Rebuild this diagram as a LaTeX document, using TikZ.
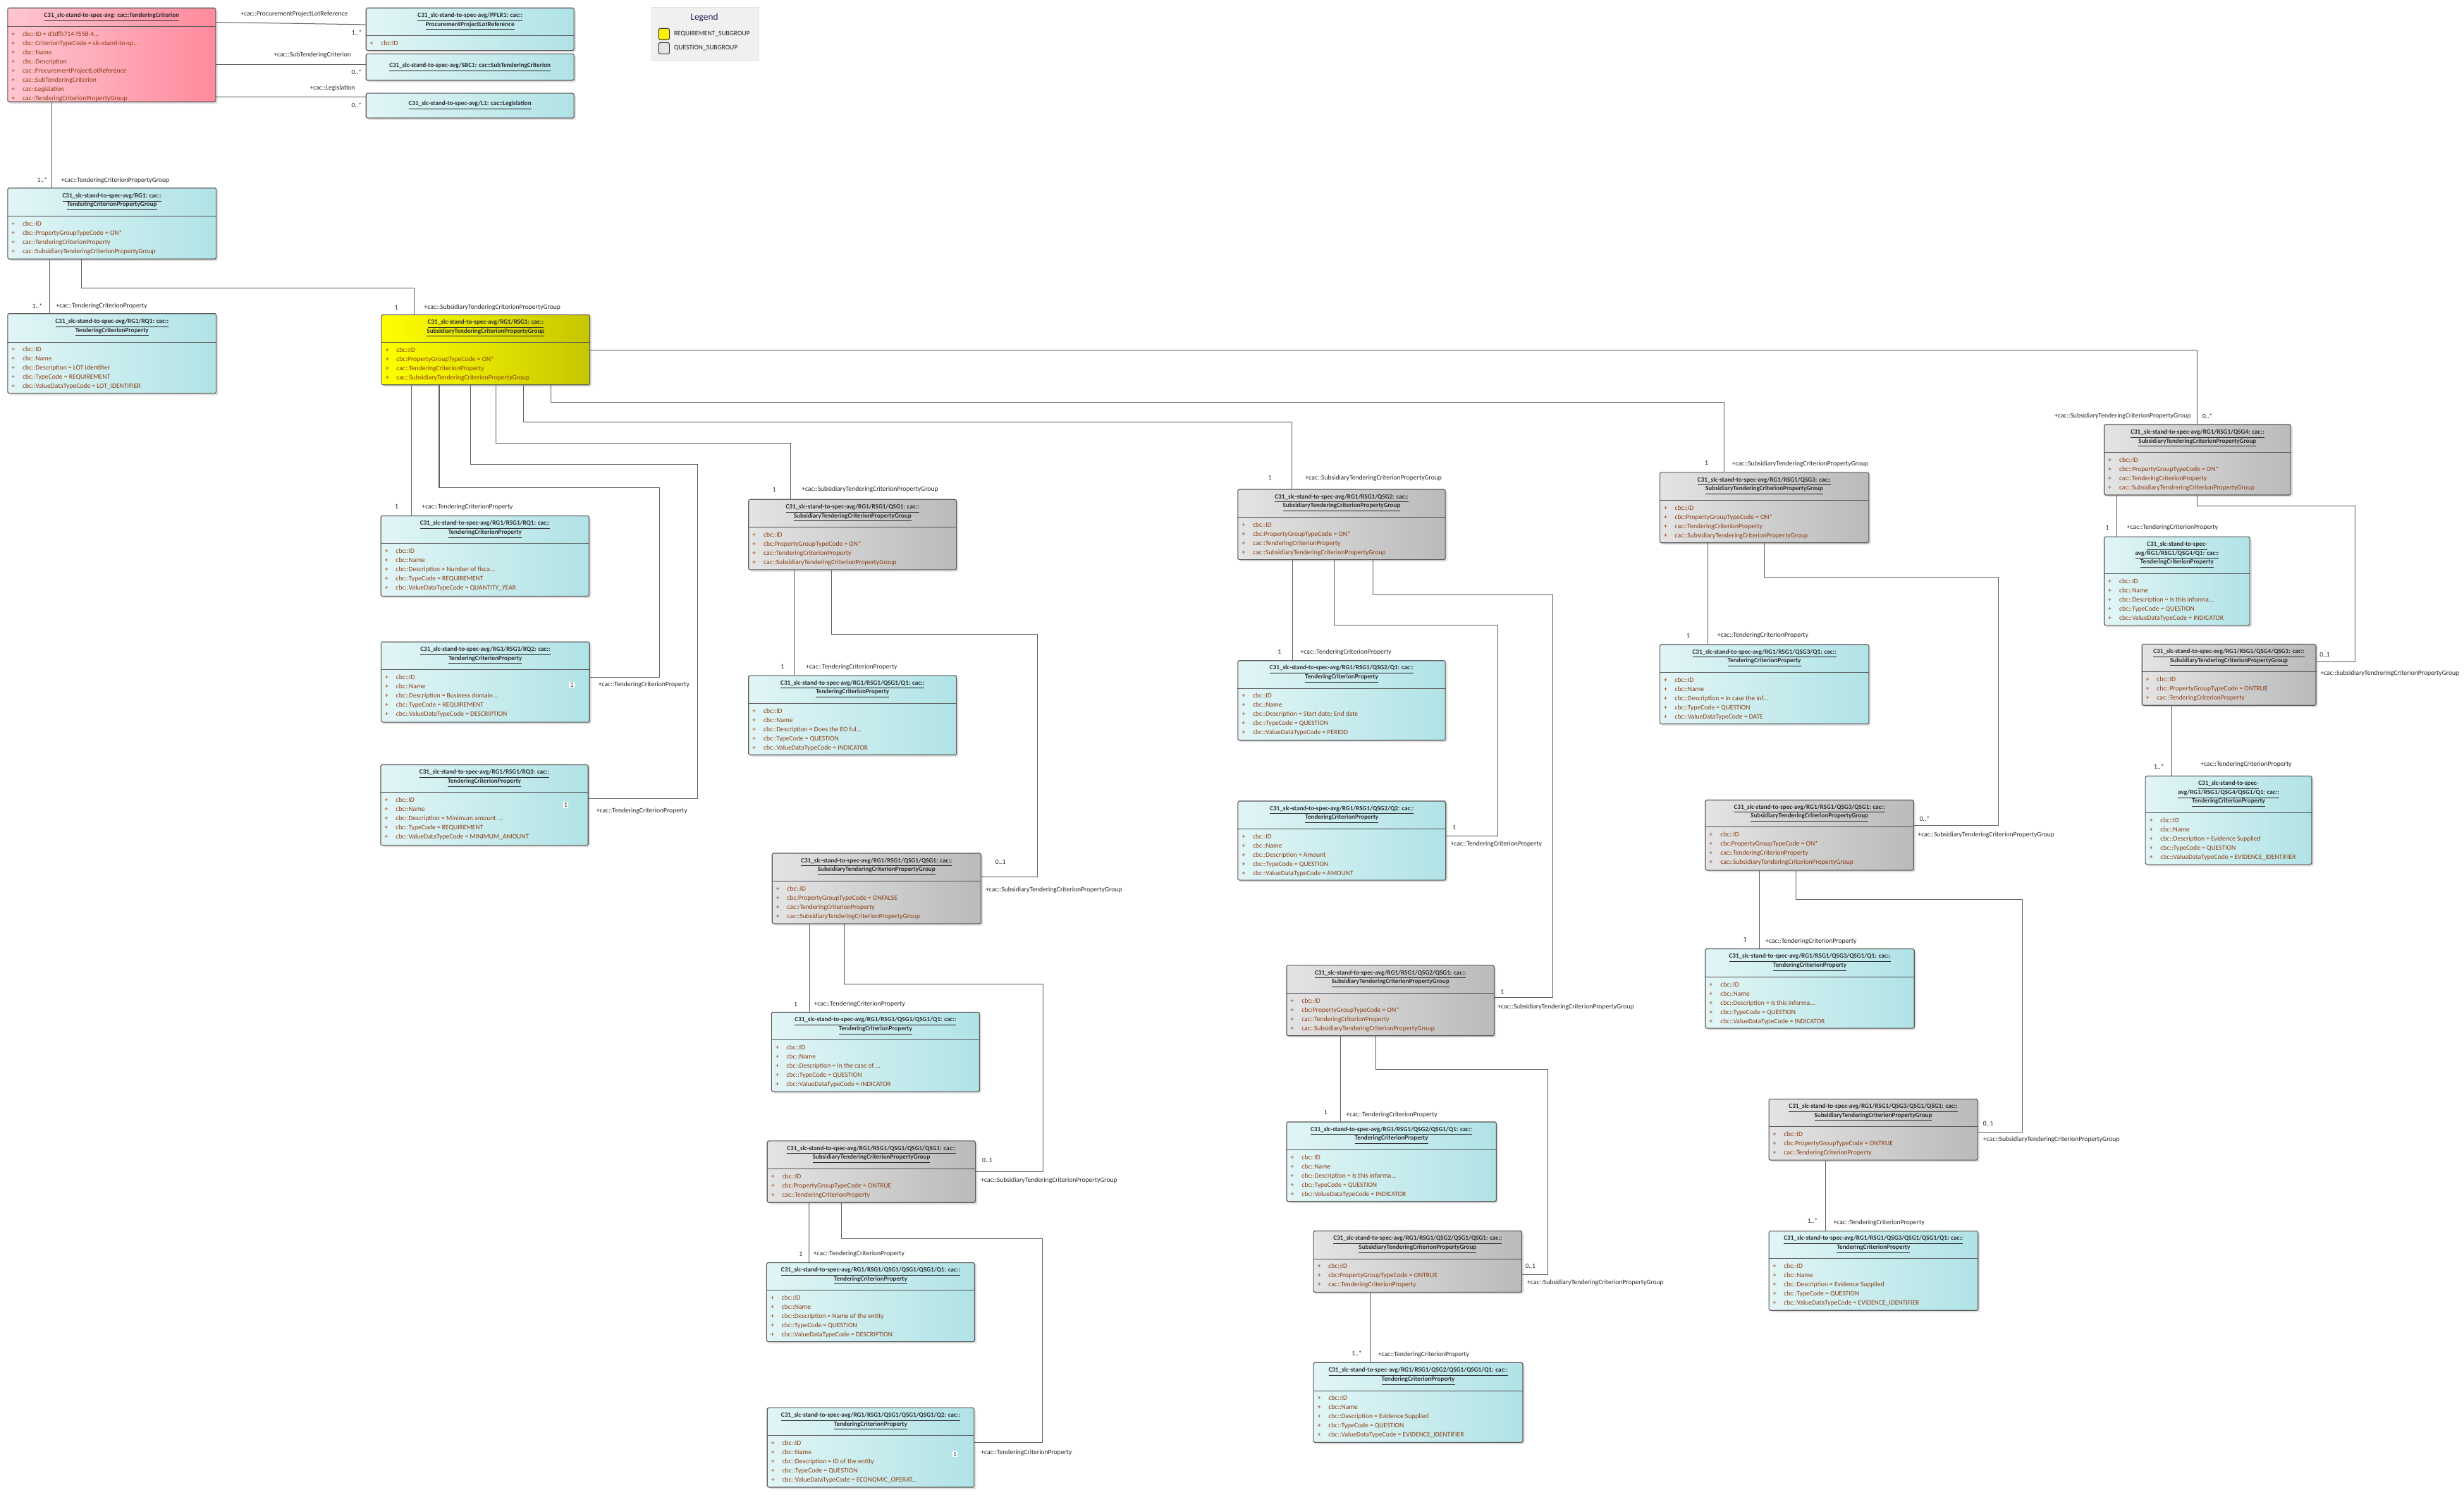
\documentclass[tikz,border=0pt]{standalone}
\usepackage{fontspec}
\setmainfont{Carlito}
\usetikzlibrary{shadows}

\definecolor{cyanL}{RGB}{226,245,246}
\definecolor{cyanR}{RGB}{176,227,230}
\definecolor{greyL}{RGB}{228,228,228}
\definecolor{greyR}{RGB}{186,186,186}
\definecolor{yelL}{RGB}{255,255,0}
\definecolor{yelR}{RGB}{198,198,0}
\definecolor{pinkL}{RGB}{255,198,208}
\definecolor{pinkR}{RGB}{255,138,156}
\definecolor{boxdraw}{RGB}{88,88,88}
\definecolor{linkgray}{RGB}{96,96,96}
\definecolor{attrcol}{RGB}{140,62,20}
\definecolor{titlecol}{RGB}{45,45,50}
\definecolor{legfill}{RGB}{240,240,240}

\newcommand{\cprefix}{C31\_slc-stand-to-spec-avg}
\newcommand{\battr}[1]{\makebox[7pt][l]{+}#1}
\newcommand{\tline}[2]{\underline{#1}\\\underline{#2}}
\newcommand{\propattrs}[3]{\battr{cbc::ID}\\\battr{cbc::Name}\\\battr{cbc::Description = #1}\\\battr{cbc::TypeCode = #2}\\\battr{cbc::ValueDataTypeCode = #3}}
\newcommand{\grpattrs}[1]{\battr{cbc::ID}\\\battr{cbc:PropertyGroupTypeCode = #1}\\\battr{cac::TenderingCriterionProperty}\\\battr{cac::SubsidiaryTenderingCriterionPropertyGroup}}
\newcommand{\leafattrs}[1]{\battr{cbc::ID}\\\battr{cbc:PropertyGroupTypeCode = #1}\\\battr{cac::TenderingCriterionProperty}}
% name, colour style, x, y, width, height, header height, title, attributes
\newcommand{\umlbox}[9]{%
  \node[#2, minimum width=#5pt, minimum height=#6pt] (#1) at (#3,#4) {};
  \draw[divline] ([yshift=-#7pt]#1.north west) -- ([yshift=-#7pt]#1.north east);
  \node[boxtitle] (#1-t) at ([yshift=-#7pt/2]#1.north) {#8};
  \node[boxattr] (#1-a) at ([yshift=-#7pt]#1.north west) {#9};
}

\tikzset{
  umlbase/.style={anchor=north west, draw=boxdraw, line width=0.5pt, rounded corners=0.8pt, inner sep=0pt,
    drop shadow={shadow xshift=1.2pt, shadow yshift=-1.2pt, opacity=0.25}},
  cyanbox/.style={umlbase, left color=cyanL, right color=cyanR},
  greybox/.style={umlbase, left color=greyL, right color=greyR},
  yellowbox/.style={umlbase, left color=yelL, right color=yelR},
  pinkbox/.style={umlbase, left color=pinkL, right color=pinkR},
  divline/.style={draw=boxdraw, line width=0.4pt},
  boxtitle/.style={align=center, inner sep=0pt, text=titlecol, font=\bfseries\fontsize{4.1}{5.7}\selectfont},
  boxattr/.style={anchor=north west, align=left, inner xsep=2.6pt, inner ysep=3pt, text=attrcol, font=\fontsize{4.3}{5.83}\selectfont},
  link/.style={draw=linkgray, line width=0.45pt},
  role/.style={anchor=west, inner sep=0pt, text=black!85, font=\fontsize{4.3}{5}\selectfont},
  mult/.style={inner sep=0pt, text=black!85, font=\fontsize{4.3}{5}\selectfont},
  multin/.style={mult, fill=white, inner sep=0.6pt},
}

\begin{document}
\begin{tikzpicture}[x=1pt, y=-1pt]
  \useasboundingbox (0,0) rectangle (1568,951);

  \umlbox{tc}{pinkbox}{4.6}{4.8}{132.4}{59.8}{12}{\underline{\cprefix: cac::TenderingCriterion}}{\battr{cbc::ID = d3dfb714-f558-4...}\\\battr{cbc::CriterionTypeCode = slc-stand-to-sp...}\\\battr{cbc::Name}\\\battr{cbc::Description}\\\battr{cac::ProcurementProjectLotReference}\\\battr{cac::SubTenderingCriterion}\\\battr{cac::Legislation}\\\battr{cac::TenderingCriterionPropertyGroup}}
  \umlbox{pplr}{cyanbox}{232.7}{4.8}{132.3}{27.1}{17.9}{\tline{\cprefix/PPLR1: cac::}{ProcurementProjectLotReference}}{\battr{cbc:ID}}
  \node[cyanbox, boxtitle, minimum width=132.3pt, minimum height=16.9pt] (sbc) at (232.7,34) {\underline{\cprefix/SBC1: cac::SubTenderingCriterion}};
  \node[cyanbox, boxtitle, minimum width=132.3pt, minimum height=15.8pt] (leg) at (232.7,59) {\underline{\cprefix/L1: cac::Legislation}};

  \node[anchor=north west, fill=legfill, draw=black!12, minimum width=68.1pt, minimum height=33.5pt] (legend) at (414.7,4.5) {};
  \node[font=\fontsize{6}{7}\selectfont, text=titlecol!80!blue] (legend-t) at (448.2,11.2) {Legend};
  \node[anchor=north west, fill=yellow, draw=black!80, rounded corners=0.8pt, minimum width=6.8pt, minimum height=7.2pt, inner sep=0pt] (key-req) at (419,17.9) {};
  \node[role] (key-req-t) at (428.7,21.7) {REQUIREMENT\_SUBGROUP};
  \node[anchor=north west, fill=greyL, draw=black!80, rounded corners=0.8pt, minimum width=6.8pt, minimum height=7.2pt, inner sep=0pt] (key-q) at (419,26.9) {};
  \node[role] (key-q-t) at (428.7,30.5) {QUESTION\_SUBGROUP};

  \umlbox{rg1}{cyanbox}{4.6}{119.4}{132.8}{45.1}{18.2}{\tline{\cprefix/RG1: cac::}{TenderingCriterionPropertyGroup}}{\battr{cbc::ID}\\\battr{cbc::PropertyGroupTypeCode = ON*}\\\battr{cac::TenderingCriterionProperty}\\\battr{cac::SubsidiaryTenderingCriterionPropertyGroup}}
  \umlbox{rq1top}{cyanbox}{4.6}{199.3}{132.8}{50.6}{18.3}{\tline{\cprefix/RG1/RQ1: cac::}{TenderingCriterionProperty}}{\propattrs{LOT Identifier}{REQUIREMENT}{LOT\_IDENTIFIER}}
  \umlbox{rsg1}{yellowbox}{242.5}{200}{132.6}{44.6}{17.7}{\tline{\cprefix/RG1/RSG1: cac::}{SubsidiaryTenderingCriterionPropertyGroup}}{\grpattrs{ON*}}
  \umlbox{rq1}{cyanbox}{242.1}{328}{132.5}{51}{17.6}{\tline{\cprefix/RG1/RSG1/RQ1: cac::}{TenderingCriterionProperty}}{\propattrs{Number of fisca...}{REQUIREMENT}{QUANTITY\_YEAR}}
  \umlbox{rq2}{cyanbox}{242.3}{408.1}{132.6}{51.1}{17.9}{\tline{\cprefix/RG1/RSG1/RQ2: cac::}{TenderingCriterionProperty}}{\propattrs{Business domain...}{REQUIREMENT}{DESCRIPTION}}
  \umlbox{rq3}{cyanbox}{242}{486.3}{132}{51.2}{17.9}{\tline{\cprefix/RG1/RSG1/RQ3: cac::}{TenderingCriterionProperty}}{\propattrs{Minimum amount ...}{REQUIREMENT}{MINIMUM\_AMOUNT}}

  \umlbox{qsg1}{greybox}{476.1}{317.5}{132.3}{44.7}{17.9}{\tline{\cprefix/RG1/RSG1/QSG1: cac::}{SubsidiaryTenderingCriterionPropertyGroup}}{\grpattrs{ON*}}
  \umlbox{qsg1q1}{cyanbox}{476.1}{429.5}{132.3}{50.5}{17.9}{\tline{\cprefix/RG1/RSG1/QSG1/Q1: cac::}{TenderingCriterionProperty}}{\propattrs{Does the EO ful...}{QUESTION}{INDICATOR}}
  \umlbox{qsg11}{greybox}{491.1}{542.6}{132.9}{44.8}{17.9}{\tline{\cprefix/RG1/RSG1/QSG1/QSG1: cac::}{SubsidiaryTenderingCriterionPropertyGroup}}{\grpattrs{ONFALSE}}
  \umlbox{qsg11q1}{cyanbox}{490.7}{643.7}{132.4}{50.5}{17.9}{\tline{\cprefix/RG1/RSG1/QSG1/QSG1/Q1: cac::}{TenderingCriterionProperty}}{\propattrs{In the case of ...}{QUESTION}{INDICATOR}}
  \umlbox{qsg111}{greybox}{488}{725.6}{132.5}{39.2}{17.9}{\tline{\cprefix/RG1/RSG1/QSG1/QSG1/QSG1: cac::}{SubsidiaryTenderingCriterionPropertyGroup}}{\leafattrs{ONTRUE}}
  \umlbox{qsg111q1}{cyanbox}{487.6}{803.1}{132.4}{50.2}{17.6}{\tline{\cprefix/RG1/RSG1/QSG1/QSG1/QSG1/Q1: cac::}{TenderingCriterionProperty}}{\propattrs{Name of the entity}{QUESTION}{DESCRIPTION}}
  \umlbox{qsg111q2}{cyanbox}{488}{895.3}{131.6}{50.6}{17.8}{\tline{\cprefix/RG1/RSG1/QSG1/QSG1/QSG1/Q2: cac::}{TenderingCriterionProperty}}{\propattrs{ID of the entity}{QUESTION}{ECONOMIC\_OPERAT...}}

  \umlbox{qsg2}{greybox}{787.5}{311.1}{132}{44.7}{17.9}{\tline{\cprefix/RG1/RSG1/QSG2: cac::}{SubsidiaryTenderingCriterionPropertyGroup}}{\grpattrs{ON*}}
  \umlbox{qsg2q1}{cyanbox}{787.5}{420}{132}{50.7}{17.9}{\tline{\cprefix/RG1/RSG1/QSG2/Q1: cac::}{TenderingCriterionProperty}}{\propattrs{Start date; End date}{QUESTION}{PERIOD}}
  \umlbox{qsg2q2}{cyanbox}{787.5}{509.4}{132.3}{50.3}{17.9}{\tline{\cprefix/RG1/RSG1/QSG2/Q2: cac::}{TenderingCriterionProperty}}{\propattrs{Amount}{QUESTION}{AMOUNT}}
  \umlbox{qsg21}{greybox}{818.5}{613.9}{132.1}{44.8}{17.9}{\tline{\cprefix/RG1/RSG1/QSG2/QSG1: cac::}{SubsidiaryTenderingCriterionPropertyGroup}}{\grpattrs{ON*}}
  \umlbox{qsg21q1}{cyanbox}{818.5}{713.5}{133.4}{50.6}{17.9}{\tline{\cprefix/RG1/RSG1/QSG2/QSG1/Q1: cac::}{TenderingCriterionProperty}}{\propattrs{Is this informa...}{QUESTION}{INDICATOR}}
  \umlbox{qsg211}{greybox}{835.6}{782.9}{132.6}{38.9}{17.9}{\tline{\cprefix/RG1/RSG1/QSG2/QSG1/QSG1: cac::}{SubsidiaryTenderingCriterionPropertyGroup}}{\leafattrs{ONTRUE}}
  \umlbox{qsg211q1}{cyanbox}{835.6}{866.6}{133.2}{50.8}{18.1}{\tline{\cprefix/RG1/RSG1/QSG2/QSG1/QSG1/Q1: cac::}{TenderingCriterionProperty}}{\propattrs{Evidence Supplied}{QUESTION}{EVIDENCE\_IDENTIFIER}}

  \umlbox{qsg3}{greybox}{1056}{300.3}{133}{44.8}{17.9}{\tline{\cprefix/RG1/RSG1/QSG3: cac::}{SubsidiaryTenderingCriterionPropertyGroup}}{\grpattrs{ON*}}
  \umlbox{qsg3q1}{cyanbox}{1056}{409.8}{133}{50.5}{17.9}{\tline{\cprefix/RG1/RSG1/QSG3/Q1: cac::}{TenderingCriterionProperty}}{\propattrs{In case the inf...}{QUESTION}{DATE}}
  \umlbox{qsg31}{greybox}{1085}{508.7}{132.5}{44.7}{17.5}{\tline{\cprefix/RG1/RSG1/QSG3/QSG1: cac::}{SubsidiaryTenderingCriterionPropertyGroup}}{\grpattrs{ON*}}
  \umlbox{qsg31q1}{cyanbox}{1085}{603.4}{132.9}{50.5}{18.1}{\tline{\cprefix/RG1/RSG1/QSG3/QSG1/Q1: cac::}{TenderingCriterionProperty}}{\propattrs{Is this informa...}{QUESTION}{INDICATOR}}
  \umlbox{qsg311}{greybox}{1125.4}{699}{132.8}{38.8}{17.6}{\tline{\cprefix/RG1/RSG1/QSG3/QSG1/QSG1: cac::}{SubsidiaryTenderingCriterionPropertyGroup}}{\leafattrs{ONTRUE}}
  \umlbox{qsg311q1}{cyanbox}{1125.4}{783}{133.1}{50.4}{17.6}{\tline{\cprefix/RG1/RSG1/QSG3/QSG1/QSG1/Q1: cac::}{TenderingCriterionProperty}}{\propattrs{Evidence Supplied}{QUESTION}{EVIDENCE\_IDENTIFIER}}

  \umlbox{qsg4}{greybox}{1338.8}{269.8}{118.6}{44.9}{18.1}{\tline{\cprefix/RG1/RSG1/QSG4: cac::}{SubsidiaryTenderingCriterionPropertyGroup}}{\battr{cbc::ID}\\\battr{cbc::PropertyGroupTypeCode = ON*}\\\battr{cac::TenderingCriterionProperty}\\\battr{cac::SubsidiaryTendreringCriterionPropertyGroup}}
  \umlbox{qsg4q1}{cyanbox}{1338.8}{341.2}{92.6}{56.4}{23.8}{\underline{C31\_slc-stand-to-spec-}\\\underline{avg/RG1/RSG1/QSG4/Q1: cac::}\\\underline{TenderingCriterionProperty}}{\propattrs{Is this informa...}{QUESTION}{INDICATOR}}
  \umlbox{qsg41}{greybox}{1362.8}{409.5}{110.7}{39}{17.8}{\tline{\cprefix/RG1/RSG1/QSG4/QSG1: cac::}{SubsidiaryTenderingCriterionPropertyGroup}}{\battr{cbc::ID}\\\battr{cbc::PropertyGroupTypeCode = ONTRUE}\\\battr{cac::TenderingCriterionProperty}}
  \umlbox{qsg41q1}{cyanbox}{1365}{493.4}{105.8}{56.3}{23.6}{\underline{C31\_slc-stand-to-spec-}\\\underline{avg/RG1/RSG1/QSG4/QSG1/Q1: cac::}\\\underline{TenderingCriterionProperty}}{\propattrs{Evidence Supplied}{QUESTION}{EVIDENCE\_IDENTIFIER}}

  \draw[link] ([yshift=20.8pt]tc.east) -- ([yshift=2.95pt]pplr.west);
  \draw[link] ([yshift=-6.1pt]tc.east) -- ([yshift=1.65pt]sbc.west);
  \draw[link] ([yshift=-26.9pt]tc.east) -- ([yshift=5.3pt]leg.west);
  \draw[link] ([xshift=28.4pt]tc.south west) -- ([xshift=28.4pt]rg1.north west);
  \draw[link] ([xshift=27.2pt]rg1.south west) -- ([xshift=27.2pt]rq1top.north west);
  \draw[link] ([xshift=47pt]rg1.south west) |- (263.6,183.2) -- ([xshift=21.1pt]rsg1.north west);
  \draw[link] ([xshift=19.5pt]rsg1.south west) -- ([xshift=19.9pt]rq1.north west);
  \draw[link] ([xshift=37pt]rsg1.south west) |- (419.8,310.4) |- ([yshift=3pt]rq2.east);
  \draw[link] ([xshift=56.9pt]rsg1.south west) |- (444,295.6) |- ([yshift=4pt]rq3.east);
  \draw[link] ([xshift=73.1pt]rsg1.south west) |- (503.3,282) -- ([xshift=27.2pt]qsg1.north west);
  \draw[link] ([xshift=90.6pt]rsg1.south west) |- (822,268.5) -- ([xshift=34.5pt]qsg2.north west);
  \draw[link] ([xshift=108.2pt]rsg1.south west) |- (1097.3,256.1) -- ([xshift=41.3pt]qsg3.north west);
  \draw[link] (rsg1.east) -| ([xshift=59.4pt]qsg4.north west);
  \draw[link] ([xshift=29.2pt]qsg1.south west) -- ([xshift=29.2pt]qsg1q1.north west);
  \draw[link] ([xshift=52.9pt]qsg1.south west) |- (660.3,403.5) |- ([yshift=7.3pt]qsg11.east);
  \draw[link] ([xshift=24.2pt]qsg11.south west) -- ([xshift=24.6pt]qsg11q1.north west);
  \draw[link] ([xshift=46.2pt]qsg11.south west) |- (663.6,626) |- (qsg111.east);
  \draw[link] ([xshift=26.9pt]qsg111.south west) -- ([xshift=27.3pt]qsg111q1.north west);
  \draw[link] ([xshift=47.6pt]qsg111.south west) |- (663.3,787.8) |- ([yshift=3pt]qsg111q2.east);
  \draw[link] ([xshift=35.1pt]qsg2.south west) -- ([xshift=35.1pt]qsg2q1.north west);
  \draw[link] ([xshift=61.5pt]qsg2.south west) |- (953.2,397.7) |- ([yshift=3pt]qsg2q2.east);
  \draw[link] ([xshift=86.3pt]qsg2.south west) |- (988.3,378.6) |- ([yshift=1.8pt]qsg21.east);
  \draw[link] ([xshift=34.6pt]qsg21.south west) -- ([xshift=34.6pt]qsg21q1.north west);
  \draw[link] ([xshift=57.1pt]qsg21.south west) |- (985.1,680.3) |- ([yshift=-8.4pt]qsg211.east);
  \draw[link] ([xshift=36.4pt]qsg211.south west) -- ([xshift=36.4pt]qsg211q1.north west);
  \draw[link] ([xshift=30.6pt]qsg3.south west) -- ([xshift=30.6pt]qsg3q1.north west);
  \draw[link] ([xshift=66.6pt]qsg3.south west) |- (1271.7,367.1) |- ([yshift=6.3pt]qsg31.east);
  \draw[link] ([xshift=34.7pt]qsg31.south west) -- ([xshift=34.7pt]qsg31q1.north west);
  \draw[link] ([xshift=57.8pt]qsg31.south west) |- (1286.9,572.3) |- ([yshift=-1.6pt]qsg311.east);
  \draw[link] ([xshift=36.2pt]qsg311.south west) -- ([xshift=36.2pt]qsg311q1.north west);
  \draw[link] ([xshift=8.2pt]qsg4.south west) -- ([xshift=8.2pt]qsg4q1.north west);
  \draw[link] ([xshift=59.4pt]qsg4.south west) |- (1498.5,321.7) |- ([yshift=8pt]qsg41.east);
  \draw[link] ([xshift=19.2pt]qsg41.south west) -- ([xshift=17pt]qsg41q1.north west);

  \node[role] (r-pplr) at (152.9,9) {+cac::ProcurementProjectLotReference};
  \node[mult] (m-pplr) at (227.1,20.5) {1..*};
  \node[role] (r-sbc) at (174,35.1) {+cac::SubTenderingCriterion};
  \node[mult] (m-sbc) at (227,46) {0..*};
  \node[role] (r-leg) at (197,56.2) {+cac::Legislation};
  \node[mult] (m-leg) at (227,66.8) {0..*};
  \node[mult] (m-rg1) at (26.9,114.4) {1..*};
  \node[role] (r-rg1) at (38.7,114.7) {+cac::TenderingCriterionPropertyGroup};
  \node[mult] (m-rq1top) at (23.7,194.6) {1..*};
  \node[role] (r-rq1top) at (35.5,194.6) {+cac::TenderingCriterionProperty};
  \node[mult] (m-rsg1) at (252.3,195.6) {1};
  \node[role] (r-rsg1) at (269.7,195.6) {+cac::SubsidiaryTenderingCriterionPropertyGroup};
  \node[mult] (m-rq1) at (252.4,322.3) {1};
  \node[role] (r-rq1) at (268.3,322.6) {+cac::TenderingCriterionProperty};
  \node[multin] (m-rq2) at (363.9,435.6) {1};
  \node[role] (r-rq2) at (380.6,435.6) {+cac::TenderingCriterionProperty};
  \node[multin] (m-rq3) at (360.1,512) {1};
  \node[role] (r-rq3) at (379.3,515.9) {+cac::TenderingCriterionProperty};
  \node[mult] (m-qsg1) at (492.6,311.4) {1};
  \node[role] (r-qsg1) at (510,311.4) {+cac::SubsidiaryTenderingCriterionPropertyGroup};
  \node[mult] (m-qsg2) at (808.1,304) {1};
  \node[role] (r-qsg2) at (830.5,304) {+cac::SubsidiaryTenderingCriterionPropertyGroup};
  \node[mult] (m-qsg3) at (1086,294.6) {1};
  \node[role] (r-qsg3) at (1102,295) {+cac::SubsidiaryTenderingCriterionPropertyGroup};
  \node[mult] (m-qsg4) at (1404.8,264.7) {0..*};
  \node[role, anchor=east] (r-qsg4) at (1394.3,264.7) {+cac::SubsidiaryTenderingCriterionPropertyGroup};
  \node[mult] (m-qsg1q1) at (497.9,424.3) {1};
  \node[role] (r-qsg1q1) at (512.8,424.3) {+cac::TenderingCriterionProperty};
  \node[mult] (m-qsg11) at (636.7,548.2) {0..1};
  \node[role] (r-qsg11) at (627,566.2) {+cac::SubsidiaryTenderingCriterionPropertyGroup};
  \node[mult] (m-qsg11q1) at (506.3,638.9) {1};
  \node[role] (r-qsg11q1) at (517.8,638.9) {+cac::TenderingCriterionProperty};
  \node[mult] (m-qsg111) at (628.3,738) {0..1};
  \node[role] (r-qsg111) at (624,751) {+cac::SubsidiaryTenderingCriterionPropertyGroup};
  \node[mult] (m-qsg111q1) at (509.6,797.8) {1};
  \node[role] (r-qsg111q1) at (517.5,797.8) {+cac::TenderingCriterionProperty};
  \node[multin] (m-qsg111q2) at (607.7,925.1) {1};
  \node[role] (r-qsg111q2) at (624,924.2) {+cac::TenderingCriterionProperty};
  \node[mult] (m-qsg2q1) at (814.2,414.9) {1};
  \node[role] (r-qsg2q1) at (827.4,414.9) {+cac::TenderingCriterionProperty};
  \node[mult] (m-qsg2q2) at (925.5,526.5) {1};
  \node[role] (r-qsg2q2) at (923,537.2) {+cac::TenderingCriterionProperty};
  \node[mult] (m-qsg21) at (956,630.8) {1};
  \node[role] (r-qsg21) at (952.8,640.6) {+cac::SubsidiaryTenderingCriterionPropertyGroup};
  \node[mult] (m-qsg21q1) at (843.6,707.7) {1};
  \node[role] (r-qsg21q1) at (856.5,709.2) {+cac::TenderingCriterionProperty};
  \node[mult] (m-qsg211) at (973.9,805.7) {0..1};
  \node[role] (r-qsg211) at (971.7,816) {+cac::SubsidiaryTenderingCriterionPropertyGroup};
  \node[mult] (m-qsg211q1) at (863.4,860.8) {1..*};
  \node[role] (r-qsg211q1) at (876.8,861.9) {+cac::TenderingCriterionProperty};
  \node[mult] (m-qsg3q1) at (1074.3,404.5) {1};
  \node[role] (r-qsg3q1) at (1092.6,404.3) {+cac::TenderingCriterionProperty};
  \node[mult] (m-qsg31) at (1224.8,520.8) {0..*};
  \node[role] (r-qsg31) at (1220.3,531.3) {+cac::SubsidiaryTenderingCriterionPropertyGroup};
  \node[mult] (m-qsg31q1) at (1110.4,597.7) {1};
  \node[role] (r-qsg31q1) at (1123.3,599) {+cac::TenderingCriterionProperty};
  \node[mult] (m-qsg311) at (1265.2,714.7) {0..1};
  \node[role] (r-qsg311) at (1261.9,725) {+cac::SubsidiaryTenderingCriterionPropertyGroup};
  \node[mult] (m-qsg311q1) at (1153.5,776.8) {1..*};
  \node[role] (r-qsg311q1) at (1166.5,778) {+cac::TenderingCriterionProperty};
  \node[mult] (m-qsg4q1) at (1341.1,335.6) {1};
  \node[role] (r-qsg4q1) at (1353.3,335.6) {+cac::TenderingCriterionProperty};
  \node[mult] (m-qsg41) at (1479.4,416.7) {0..1};
  \node[role] (r-qsg41) at (1476.5,428.3) {+cac::SubsidiaryTendreringCriterionPropertyGroup};
  \node[mult] (m-qsg41q1) at (1373.9,487.8) {1..*};
  \node[role] (r-qsg41q1) at (1400.2,486.5) {+cac::TenderingCriterionProperty};
\end{tikzpicture}
\end{document}
